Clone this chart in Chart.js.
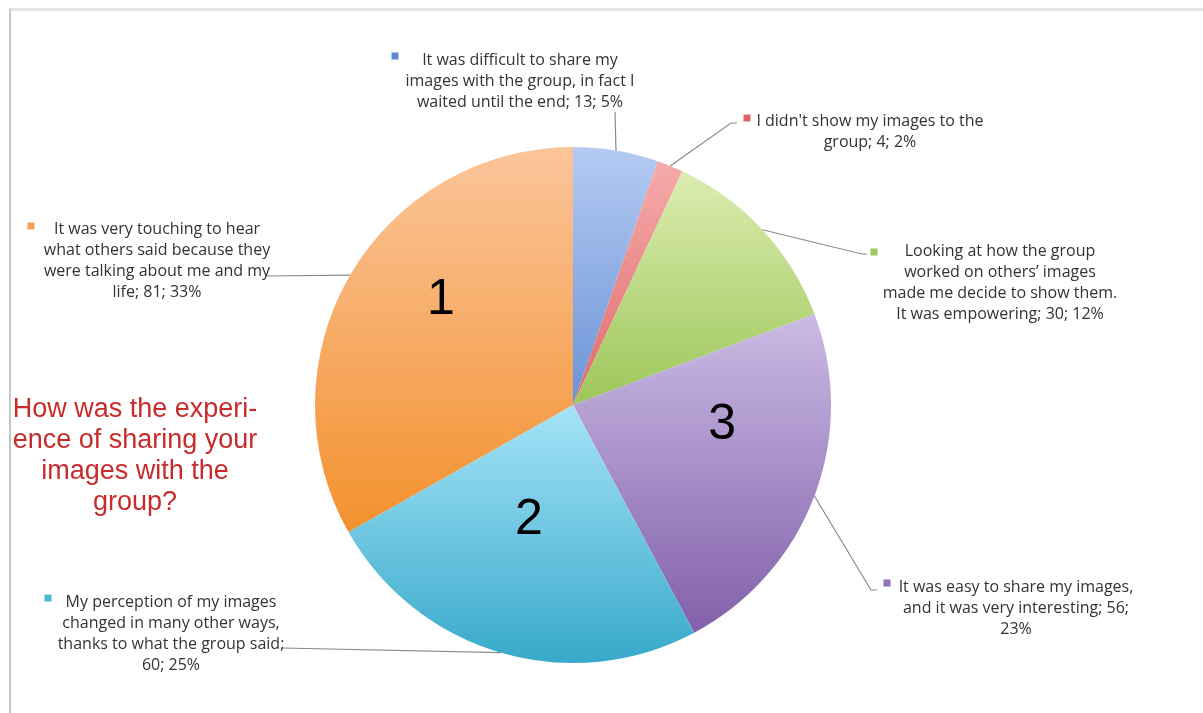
<!DOCTYPE html>
<html>
<head>
<meta charset="utf-8">
<title>Sharing images with the group</title>
<script src="https://cdn.jsdelivr.net/npm/chart.js@4.4.1/dist/chart.umd.min.js"></script>
<style>
  html, body { margin: 0; padding: 0; background: #fff; }
  #wrap { position: relative; width: 1203px; height: 713px; overflow: hidden; }
  #frame {
    position: absolute; left: 9px; top: 8px; right: -4px; bottom: -4px;
    border-top: 3px solid #e3e3e3; border-left: 2px solid #c6c6c6;
  }
  #answers { position: absolute; left: 0; top: 0; }
</style>
</head>
<body>
<div id="wrap">
  <div id="frame"></div>
  <canvas id="answers" width="1203" height="713"></canvas>
</div>
<script>
// answers, clockwise from 12 o'clock
var answerLabels = [
    'It was difficult to share my\nimages with the group, in fact I\nwaited until the end',
    'I didn\'t show my images to the\ngroup',
    'Looking at how the group\nworked on others\u2019 images\nmade me decide to show them.\nIt was empowering',
    'It was easy to share my images,\nand it was very interesting',
    'My perception of my images\nchanged in many other ways,\nthanks to what the group said',
    'It was very touching to hear\nwhat others said because they\nwere talking about me and my\nlife'
];
var answerCounts = [13, 4, 30, 56, 60, 81];
var questionLines = ['How was the experi-', 'ence of sharing your', 'images with the', 'group?'];

// where the "; count; pct%" tail wraps: 0 none, 1 before count, 2 before pct
var tailBreak = [0, 0, 0, 2, 1, 0];

// slice fills (light top -> theme colour bottom)
var fillTop    = ['#b4cbf3', '#f5abab', '#dcedb0', '#cbbbe4', '#a6e4f8', '#fbc59b'];
var fillBottom = ['#6b93d6', '#e06a6a', '#9cc65a', '#8260aa', '#37a9ca', '#f3912e'];
var keyColors  = ['#5b8bd8', '#e06464', '#9dc85c', '#9172bd', '#4db7d6', '#f6a057'];

// callout layout: text centre x, first line y, key square, elbow of leader line
var callouts = [
    { tx: 520, ty: 60,  kx: 395, ky: 56,  line: [[615, 112]] },
    { tx: 870, ty: 121, kx: 747, ky: 118, line: [[731, 123], [737, 123]] },
    { tx: 1000, ty: 251, kx: 874, ky: 252, line: [[862, 254], [867, 254]] },
    { tx: 1016, ty: 587, kx: 887, ky: 583, line: [[871, 590], [877, 590]] },
    { tx: 171, ty: 602, kx: 48,  ky: 598, line: [[282, 648]] },
    { tx: 157, ty: 229, kx: 31,  ky: 226, line: [[265, 276]] }
];
var lineStep = 21;

var totalCount = answerCounts.reduce(function (a, b) { return a + b; }, 0);

function sliceAngles(i) {
    var a0 = 0;
    for (var k = 0; k < i; k++) a0 += answerCounts[k] / totalCount * 2 * Math.PI;
    return [a0, a0 + answerCounts[i] / totalCount * 2 * Math.PI];
}

function pieGeometry(area) {
    var cx = (area.left + area.right) / 2, cy = (area.top + area.bottom) / 2;
    var r = Math.min(area.right - area.left, area.bottom - area.top) / 2;
    return { cx: cx, cy: cy, r: r };
}

// vertical gradient over the slice's own height
function sliceFill(context) {
    var chart = context.chart, i = context.dataIndex;
    if (!chart.chartArea) return fillBottom[i];
    var g = pieGeometry(chart.chartArea);
    var ang = sliceAngles(i);
    var ys = [g.cy, g.cy - g.r * Math.cos(ang[0]), g.cy - g.r * Math.cos(ang[1])];
    if (ang[0] <= 0.0001) ys.push(g.cy - g.r);
    if (ang[0] <= Math.PI && ang[1] >= Math.PI) ys.push(g.cy + g.r);
    var y0 = Math.min.apply(null, ys), y1 = Math.max.apply(null, ys);
    var grad = chart.ctx.createLinearGradient(0, y0, 0, y1);
    grad.addColorStop(0, fillTop[i]);
    grad.addColorStop(1, fillBottom[i]);
    return grad;
}

function calloutLines(i) {
    var pct = Math.round(answerCounts[i] / totalCount * 100) + '%';
    var lines = answerLabels[i].split('\n');
    var last = lines.length - 1;
    if (tailBreak[i] === 1) {
        lines[last] += ';';
        lines.push(answerCounts[i] + '; ' + pct);
    } else if (tailBreak[i] === 2) {
        lines[last] += '; ' + answerCounts[i] + ';';
        lines.push(pct);
    } else {
        lines[last] += '; ' + answerCounts[i] + '; ' + pct;
    }
    return lines;
}

var calloutPlugin = {
    id: 'callouts',
    afterDatasetsDraw: function (chart) {
        var ctx = chart.ctx;
        var g = pieGeometry(chart.chartArea);
        ctx.save();

        // leader lines from the middle of each slice's rim
        ctx.strokeStyle = '#8a8a8a';
        ctx.lineWidth = 1.2;
        answerCounts.forEach(function (v, i) {
            var ang = sliceAngles(i), mid = (ang[0] + ang[1]) / 2;
            ctx.beginPath();
            ctx.moveTo(g.cx + g.r * Math.sin(mid), g.cy - g.r * Math.cos(mid));
            callouts[i].line.forEach(function (p) { ctx.lineTo(p[0], p[1]); });
            ctx.stroke();
        });

        // key squares and callout text
        ctx.font = '16px "Open Sans", Lato, sans-serif';
        ctx.textAlign = 'center';
        ctx.textBaseline = 'middle';
        answerCounts.forEach(function (v, i) {
            var c = callouts[i];
            ctx.fillStyle = keyColors[i];
            ctx.fillRect(c.kx - 3.5, c.ky - 3.5, 7, 7);
            ctx.fillStyle = '#333';
            calloutLines(i).forEach(function (t, k) {
                ctx.fillText(t, c.tx, c.ty + k * lineStep);
            });
        });

        // rank numbers on the three largest slices
        var rankSpots = [[-0.512, -0.405], [-0.171, 0.446], [0.578, 0.078]];
        ctx.font = '50px "Liberation Sans", Arial, sans-serif';
        ctx.fillStyle = '#000';
        for (var n = 0; n < 3; n++) {
            ctx.fillText(String(n + 1), g.cx + rankSpots[n][0] * g.r, g.cy + rankSpots[n][1] * g.r);
        }

        // question
        ctx.font = '27px "Liberation Sans", Arial, sans-serif';
        ctx.fillStyle = '#c92b2b';
        questionLines.forEach(function (t, k) {
            ctx.fillText(t, 135, 410 + k * 31);
        });
        ctx.restore();
    }
};

var ctx = document.getElementById('answers').getContext('2d');
var answersChart = new Chart(ctx, {
    type: 'pie',
    data: {
        labels: answerLabels,
        datasets: [{
            data: answerCounts,
            backgroundColor: sliceFill,
            borderWidth: 0
        }]
    },
    options: {
        responsive: false,
        animation: false,
        layout: { padding: { left: 315, right: 372, top: 147, bottom: 50 } },
        plugins: {
            legend: { display: false },
            tooltip: { enabled: false }
        }
    },
    plugins: [calloutPlugin]
});
</script>
</body>
</html>
